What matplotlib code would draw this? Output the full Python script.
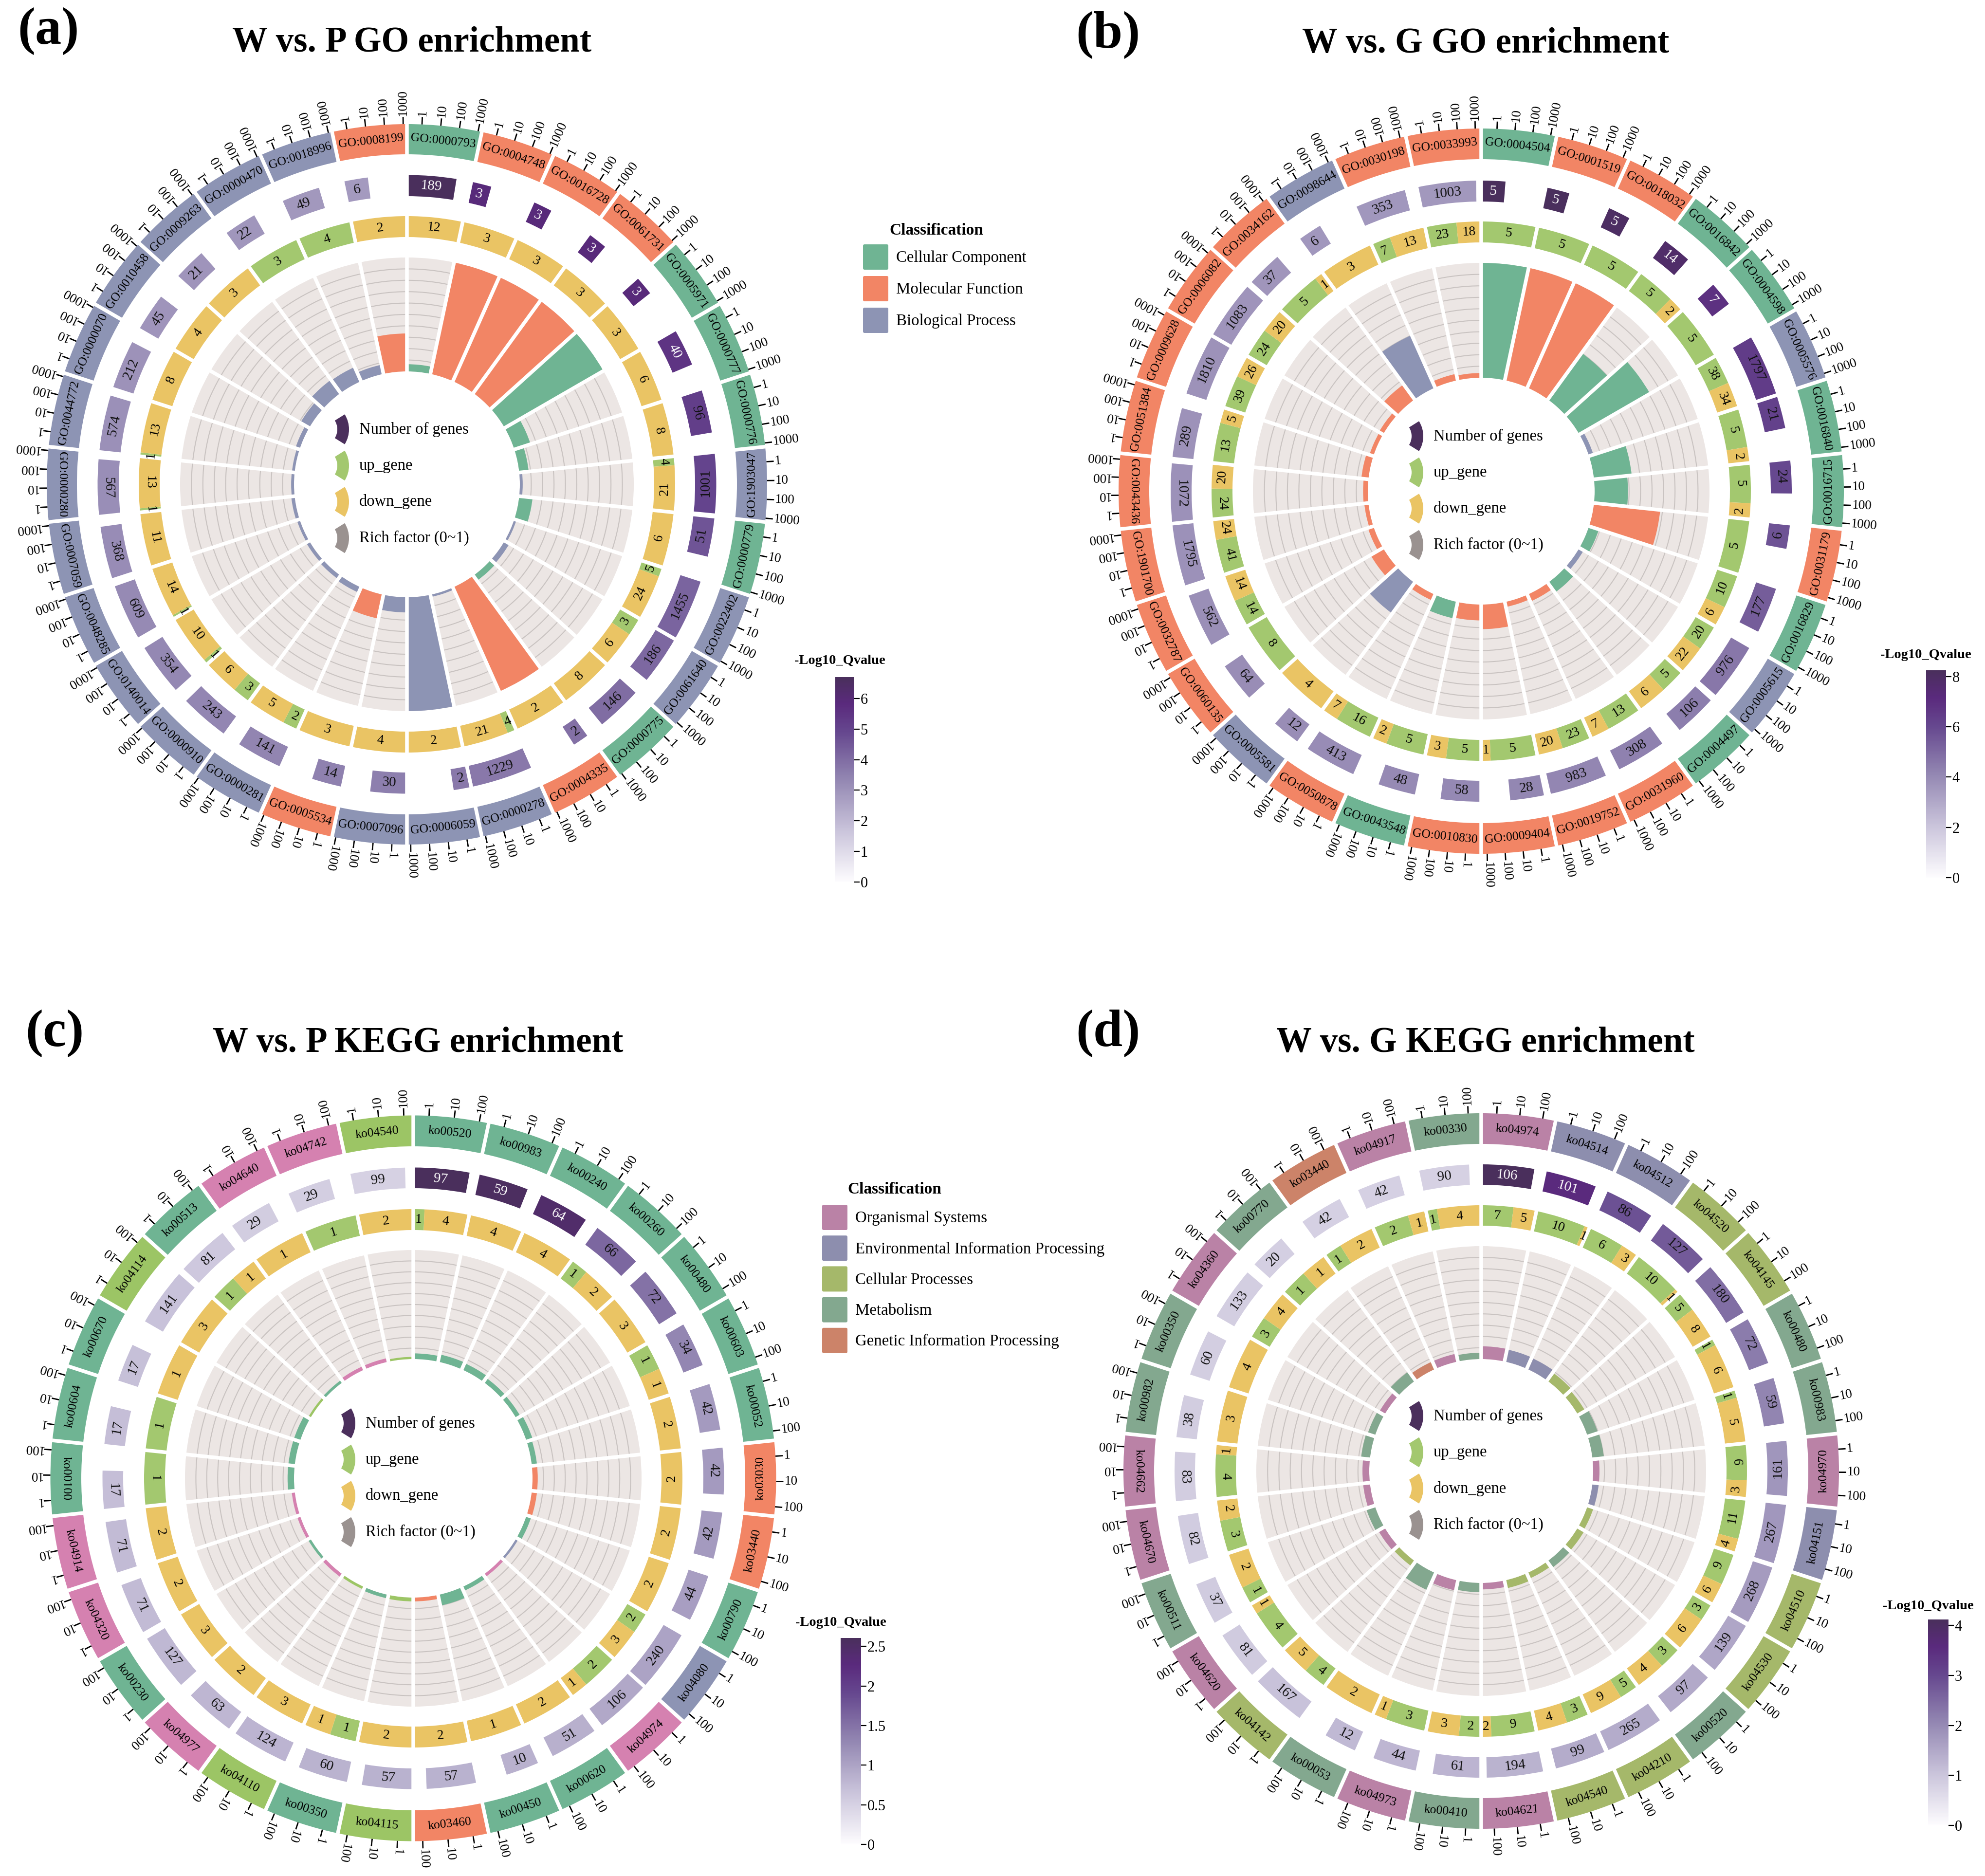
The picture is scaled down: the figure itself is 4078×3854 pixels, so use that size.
import matplotlib
matplotlib.use("agg")

import matplotlib.pyplot as plt
import numpy as np
from matplotlib.cm import ScalarMappable
from matplotlib.colors import LinearSegmentedColormap, Normalize
from matplotlib.patches import FancyBboxPatch, Wedge

plt.rcParams["font.family"] = ["Liberation Serif", "DejaVu Serif"]

W, H = 4078, 3854

# (a) W vs. P GO
a_labels = ["GO:0000793", "GO:0004748", "GO:0016728", "GO:0061731", "GO:0005971", "GO:0000777",
            "GO:0000776", "GO:1903047", "GO:0000779", "GO:0022402", "GO:0061640", "GO:0000775",
            "GO:0004335", "GO:0000278", "GO:0006059", "GO:0007096", "GO:0005534", "GO:0000281",
            "GO:0000910", "GO:0140014", "GO:0048285", "GO:0007059", "GO:0000280", "GO:0044772",
            "GO:0000070", "GO:0010458", "GO:0009263", "GO:0000470", "GO:0018996", "GO:0008199"]
a_class = list("CMMMCCCBCBBCMBBBMBBBBBBBBBBBBM")
a_numbers = [189, 3, 3, 3, 3, 40, 96, 1001, 51, 1455, 186, 146, 2, 1229, 2,
             30, 14, 141, 243, 354, 609, 368, 567, 574, 212, 45, 21, 22, 49, 6]
a_up = [0, 0, 0, 0, 0, 0, 0, 4, 0, 5, 3, 0, 0, 4, 0,
        0, 0, 2, 3, 1, 1, 0, 1, 1, 0, 0, 0, 3, 4, 0]
a_down = [12, 3, 3, 3, 3, 6, 8, 21, 6, 24, 6, 8, 2, 21, 2,
          4, 3, 5, 6, 10, 14, 11, 13, 13, 8, 4, 3, 0, 0, 2]
a_rich = [.063, 1, 1, 1, 1, .15, .083, .025, .118, .02, .048, .055, 1, .02, 1,
          .133, .214, .05, .037, .031, .025, .03, .025, .024, .038, .089, .143, .136, .082, .333]
a_q = [6.7, 5.9, 5.9, 5.9, 5.9, 5.5, 5.2, 5.0, 4.6, 4.2, 4.1, 4.0, 3.9, 3.7, 3.7,
       3.55, 3.5, 3.4, 3.35, 3.3, 3.25, 3.2, 3.15, 3.1, 3.05, 3.0, 3.0, 2.95, 2.9, 2.85]

# (b) W vs. G GO
b_labels = ["GO:0004504", "GO:0001519", "GO:0018032", "GO:0016842", "GO:0004598", "GO:0005576",
            "GO:0016840", "GO:0016715", "GO:0031179", "GO:0016829", "GO:0005615", "GO:0004497",
            "GO:0031960", "GO:0019752", "GO:0009404", "GO:0010830", "GO:0043548", "GO:0050878",
            "GO:0005581", "GO:0060135", "GO:0032787", "GO:1901700", "GO:0043436", "GO:0051384",
            "GO:0009628", "GO:0006082", "GO:0034162", "GO:0098644", "GO:0030198", "GO:0033993"]
b_class = list("CMMCCBCCMCBCMMMMCMBMMMMMMMMBMM")
b_numbers = [5, 5, 5, 14, 7, 1797, 21, 24, 6, 177, 976, 106, 308, 983, 28,
             58, 48, 413, 12, 64, 562, 1795, 1072, 289, 1810, 1083, 37, 6, 353, 1003]
b_up = [5, 5, 5, 5, 5, 38, 5, 5, 5, 10, 20, 5, 13, 23, 5,
        5, 5, 16, 0, 8, 14, 41, 24, 13, 39, 24, 5, 0, 7, 23]
b_down = [0, 0, 0, 2, 0, 34, 2, 2, 0, 6, 22, 6, 7, 20, 1,
          3, 2, 7, 4, 0, 14, 24, 20, 5, 26, 20, 1, 3, 13, 18]
b_rich = [1, 1, 1, .5, .71, .04, .33, .29, .58, .09, .043, .104, .065, .044, .214,
          .138, .146, .056, .33, .125, .05, .036, .041, .062, .036, .041, .162, .5, .057, .041]
b_q = [8.25, 8.2, 8.0, 7.8, 6.9, 6.5, 6.3, 6.0, 5.7, 5.4, 4.6, 4.4, 4.3, 4.15, 4.1,
       4.05, 4.0, 3.95, 3.9, 3.9, 3.85, 3.8, 3.8, 3.75, 3.75, 3.7, 3.65, 3.6, 3.6, 3.55]

# (c) W vs. P KEGG
c_labels = ["ko00520", "ko00983", "ko00240", "ko00260", "ko00480", "ko00603", "ko00052", "ko03030",
            "ko03440", "ko00790", "ko04080", "ko04974", "ko00620", "ko00450", "ko03460", "ko04115",
            "ko00350", "ko04110", "ko04977", "ko00230", "ko04320", "ko04914", "ko00100", "ko00604",
            "ko00670", "ko04114", "ko00513", "ko04640", "ko04742", "ko04540"]
c_class = list("mmmmmmmggmeommgcmcomoommmcmooc")
c_numbers = [97, 59, 64, 66, 72, 34, 42, 42, 42, 44, 240, 106, 51, 10, 57,
             57, 60, 124, 63, 127, 71, 71, 17, 17, 17, 141, 81, 29, 29, 99]
c_up = [1, 0, 0, 1, 0, 1, 0, 0, 0, 0, 2, 2, 0, 0, 0,
        0, 1, 0, 0, 0, 0, 0, 1, 1, 0, 0, 1, 0, 1, 0]
c_down = [4, 4, 4, 2, 3, 1, 2, 2, 2, 2, 3, 1, 2, 1, 2,
          2, 1, 3, 2, 3, 2, 2, 0, 0, 1, 3, 1, 1, 0, 2]
c_rich = [.052, .068, .0625, .045, .042, .059, .048, .048, .048, .045, .021, .028, .039, .1, .035,
          .035, .033, .024, .032, .024, .028, .028, .059, .059, .059, .021, .025, .034, .034, .02]
c_q = [2.6, 2.55, 2.45, 1.6, 1.5, 1.3, 1.1, 1.1, 1.1, 1.05, 1.0, .95, .87, .86, .85,
       .85, .84, .82, .8, .78, .75, .75, .72, .72, .7, .68, .6, .55, .53, .5]

# (d) W vs. G KEGG
d_labels = ["ko04974", "ko04514", "ko04512", "ko04520", "ko04145", "ko00480", "ko00983", "ko04970",
            "ko04151", "ko04510", "ko04530", "ko00520", "ko04210", "ko04540", "ko04621", "ko00410",
            "ko04973", "ko00053", "ko04142", "ko04620", "ko00511", "ko04670", "ko04662", "ko00982",
            "ko00350", "ko04360", "ko00770", "ko03440", "ko04917", "ko00330"]
d_class = list("oeeccmmoeccmccomomcomoommomgom")
d_numbers = [106, 101, 86, 127, 180, 72, 59, 161, 267, 268, 139, 97, 265, 99, 194,
             61, 44, 12, 167, 81, 37, 82, 83, 38, 60, 133, 20, 42, 42, 90]
d_up = [7, 10, 6, 10, 5, 1, 1, 6, 11, 9, 3, 3, 5, 3, 9,
        2, 3, 0, 4, 4, 1, 3, 4, 0, 0, 3, 1, 1, 2, 1]
d_down = [5, 1, 3, 1, 8, 6, 5, 3, 4, 6, 6, 4, 9, 4, 2,
          3, 1, 2, 5, 1, 2, 2, 1, 3, 4, 4, 1, 2, 1, 4]
d_rich = [.113, .109, .105, .087, .072, .097, .102, .056, .056, .056, .065, .072, .053, .071, .057,
          .082, .091, .167, .054, .062, .081, .061, .06, .079, .067, .053, .1, .071, .071, .056]
d_q = [4.15, 3.6, 2.9, 2.75, 2.45, 2.25, 2.1, 1.83, 1.8, 1.75, 1.55, 1.5, 1.45, 1.45, 1.33,
       1.3, 1.27, 1.22, 1.08, .92, .92, .9, .88, .88, .85, .85, .83, .82, .82, .8]

go_ticks = [1, 10, 100, 1000]
ko_ticks = [1, 10, 100]

go_palette = {"C": "#6FB493", "M": "#F28565", "B": "#8D94B4"}
c_palette = {"m": "#6FB493", "g": "#F28565", "e": "#8D94B4", "o": "#D581B0", "c": "#9CC565"}
d_palette = {"m": "#83A88F", "g": "#CC8369", "e": "#8D8EAE", "o": "#BA82A6", "c": "#A5B86A"}

go_names = ["Cellular Component", "Molecular Function", "Biological Process"]
go_colors = ["#6FB493", "#F28565", "#8D94B4"]
ko_names = ["Organismal Systems", "Environmental Information Processing", "Cellular Processes",
            "Metabolism", "Genetic Information Processing"]
ko_colors = ["#BA82A6", "#8D8EAE", "#A5B86A", "#83A88F", "#CC8369"]
key_names = ["Number of genes", "up_gene", "down_gene", "Rich factor (0~1)"]
key_colors = ["#4B2F5C", "#A3C86F", "#EAC464", "#9A9290"]

UP, DOWN = "#A3C86F", "#EAC464"
qcmap = LinearSegmentedColormap.from_list(
    "qvalue", [(0, "#FDFCFE"), (.25, "#CAC4DB"), (.5, "#9387B2"),
               (.73, "#66488F"), (.87, "#5A2A7D"), (1, "#4A2F5C")])

SECTOR = 2 * np.pi / 30
RMAX = 860

fig = plt.figure(figsize=(W / 100, H / 100), dpi=100)
page = fig.add_axes([0, 0, 1, 1], zorder=5)
page.set_xlim(0, W)
page.set_ylim(H, 0)
page.axis("off")


def tangent(theta):
    deg = np.degrees(theta) % 360
    return 180 - deg if 89 <= deg <= 271 else -deg


def draw_circle(cx, cy, radii, first, decade, ticks, labels, classes, palette,
                numbers, up, down, rich, q):
    r_out, r_lab, r_num1, r_num0, r_ud1, r_ud0, r_bar1, r_bar0 = radii
    ax = fig.add_axes([(cx - RMAX) / W, 1 - (cy + RMAX) / H, 2 * RMAX / W, 2 * RMAX / H], polar=True)
    ax.set_theta_zero_location("N")
    ax.set_theta_direction(-1)
    ax.set_rlim(0, RMAX)
    ax.axis("off")

    starts = np.arange(30) * SECTOR
    mids = starts + SECTOR / 2
    colors = [palette[k] for k in classes]
    norm = Normalize(0, max(q))

    # sector labels and log axis
    ax.bar(starts, r_out - r_lab, SECTOR, bottom=r_lab, align="edge", color=colors, lw=0, zorder=1)
    for t, lab in zip(mids, labels):
        ax.text(t, (r_out + r_lab) / 2, lab, rotation=tangent(t), rotation_mode="anchor",
                ha="center", va="center", fontsize=18.5, zorder=6)
    first_rad = np.radians(first)
    step_rad = np.radians(decade)
    for s in starts:
        for i, tk in enumerate(ticks):
            t = s + first_rad + i * step_rad
            ax.vlines(t, r_out, r_out + 15, color="black", lw=2, capstyle="butt", zorder=2)
            ax.text(t, r_out + 17, str(tk), rotation=90 - np.degrees(t), rotation_mode="anchor",
                    ha="left", va="center", fontsize=19.5)

    # number of genes, bar length on the log axis
    for s, n, v in zip(starts, numbers, q):
        width = first_rad + np.log10(n) * step_rad
        ax.bar(s, r_num1 - r_num0, width, bottom=r_num0, align="edge",
               color=qcmap(norm(v)), lw=0, zorder=1)
        ax.text(s + width / 2, (r_num1 + r_num0) / 2, str(n), rotation=tangent(s + width / 2),
                rotation_mode="anchor", ha="center", va="center", fontsize=21, zorder=6,
                color="white" if v / max(q) >= .8 else "#111111")

    # up and down genes
    for s, u, d in zip(starts, up, down):
        du = SECTOR * u / (u + d)
        if u:
            ax.bar(s, r_ud1 - r_ud0, du, bottom=r_ud0, align="edge", color=UP, lw=0, zorder=1)
            ax.text(s + du / 2, (r_ud1 + r_ud0) / 2, str(u), rotation=tangent(s + du / 2),
                    rotation_mode="anchor", ha="center", va="center", fontsize=20, zorder=6)
        if d:
            ax.bar(s + du, r_ud1 - r_ud0, SECTOR - du, bottom=r_ud0, align="edge", color=DOWN, lw=0, zorder=1)
            t = s + du + (SECTOR - du) / 2
            ax.text(t, (r_ud1 + r_ud0) / 2, str(d), rotation=tangent(t),
                    rotation_mode="anchor", ha="center", va="center", fontsize=20, zorder=6)

    # rich factor track
    span = r_bar1 - r_bar0
    ax.bar(starts, span, SECTOR, bottom=r_bar0, align="edge", color="#ECE6E4", lw=0, zorder=1)
    ring = np.linspace(0, 2 * np.pi, 720)
    for g in np.arange(1, 10) / 10:
        ax.plot(ring, np.full(ring.size, r_bar0 + g * span), color="#C9C3C1", lw=1.5, zorder=2)
    ax.bar(starts, np.array(rich) * span, SECTOR, bottom=r_bar0, align="edge",
           color=colors, lw=0, zorder=3)

    # white gaps between the sectors
    ax.vlines(starts, r_bar0 - 3, r_out + .5, color="white", lw=5.4, capstyle="butt", zorder=4)

    # key in the hole
    for i, (name, col) in enumerate(zip(key_names, key_colors)):
        y = cy - 113 + i * 74.5
        page.add_patch(Wedge((cx - 119 - 58, y), 58, -32, 32, width=24, color=col, lw=0))
        page.text(cx - 98, y, name, ha="left", va="center", fontsize=23.5)


def draw_colorbar(x0, x1, y0, y1, title_x, title_y, vmax, ticks, ticklabels):
    cax = fig.add_axes([x0 / W, 1 - y1 / H, (x1 - x0) / W, (y1 - y0) / H])
    cb = fig.colorbar(ScalarMappable(Normalize(0, vmax), qcmap), cax=cax)
    cb.outline.set_visible(False)
    cb.set_ticks(ticks, labels=ticklabels)
    cb.ax.tick_params(length=8, width=1.6, labelsize=22, pad=1)
    page.text(title_x, title_y, "-Log10_Qvalue", ha="center", va="center",
              fontsize=20.5, fontweight="bold")


draw_circle(836, 995, (740, 678, 635.5, 592, 551, 508, 466, 232), 2.4, 3, go_ticks,
            a_labels, a_class, go_palette, a_numbers, a_up, a_down, a_rich, a_q)
draw_circle(3043, 1009, (745, 682, 638, 595, 554, 511, 469, 233), 2.5, 2.85, go_ticks,
            b_labels, b_class, go_palette, b_numbers, b_up, b_down, b_rich, b_q)
draw_circle(849, 3037, (745.5, 682, 638.5, 596, 553, 510, 469, 245), 2.5, 4, ko_ticks,
            c_labels, c_class, c_palette, c_numbers, c_up, c_down, c_rich, c_q)
draw_circle(3043, 3022, (735, 672, 630, 588, 546, 504, 462, 230), 2.5, 3.7, ko_ticks,
            d_labels, d_class, d_palette, d_numbers, d_up, d_down, d_rich, d_q)

draw_colorbar(1716, 1755, 1391, 1812, 1725, 1357, 6.7, range(7), [str(i) for i in range(7)])
draw_colorbar(3957, 3998, 1377, 1803, 3956, 1346, 8.25, [0, 2, 4, 6, 8], ["0", "2", "4", "6", "8"])
draw_colorbar(1727, 1769, 3365, 3789, 1727, 3334, 2.607, [0, .5, 1, 1.5, 2, 2.5],
              ["0", "0.5", "1", "1.5", "2", "2.5"])
draw_colorbar(3961, 4003, 3327, 3750, 3961, 3299, 4.12, range(5), [str(i) for i in range(5)])


# classification legends
def draw_legend(x, y_title, title_x, y0, dy, names, colors):
    page.text(title_x, y_title, "Classification", ha="center", va="center",
              fontsize=24, fontweight="bold")
    for i, (name, col) in enumerate(zip(names, colors)):
        page.add_patch(FancyBboxPatch((x + 3, y0 + i * dy + 3), 46, 46, boxstyle="round,pad=3",
                                      color=col, lw=0))
        page.text(x + 68, y0 + i * dy + 28, name, ha="left", va="center", fontsize=23.7)


draw_legend(1773, 473, 1924, 502, 65, go_names, go_colors)
draw_legend(1689, 2444, 1838, 2475, 63.2, ko_names, ko_colors)

# titles
page.text(846, 88, "W vs. P GO enrichment", ha="center", va="center", fontsize=52.5, fontweight="bold")
page.text(3052, 90, "W vs. G GO enrichment", ha="center", va="center", fontsize=52.5, fontweight="bold")
page.text(859, 2143, "W vs. P KEGG enrichment", ha="center", va="center", fontsize=52.5, fontweight="bold")
page.text(3052, 2143, "W vs. G KEGG enrichment", ha="center", va="center", fontsize=52.5, fontweight="bold")
page.text(36, 64, "(a)", ha="left", va="center", fontsize=78, fontweight="bold")
page.text(2210, 72, "(b)", ha="left", va="center", fontsize=78, fontweight="bold")
page.text(52, 2123, "(c)", ha="left", va="center", fontsize=78, fontweight="bold")
page.text(2210, 2123, "(d)", ha="left", va="center", fontsize=78, fontweight="bold")

fig.savefig("out.png", dpi=100)
